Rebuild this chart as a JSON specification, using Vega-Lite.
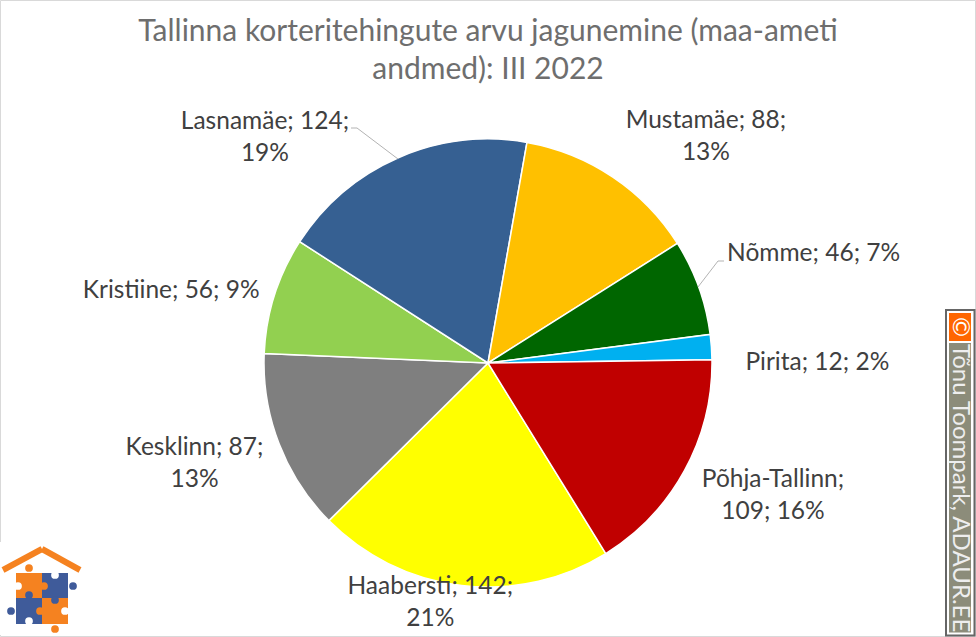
{"$schema":"https://vega.github.io/schema/vega-lite/v6.json","width":976,"height":556,"autosize":{"type":"none"},"padding":{"left":0,"top":85,"right":0,"bottom":0},"background":"white","config":{"view":{"stroke":null},"axis":{"disable":true}},"title":{"text":["Tallinna korteritehingute arvu jagunemine (maa-ameti","andmed): III 2022"],"font":"Lato","fontSize":30,"fontWeight":"normal","color":"#6e6e6e","lineHeight":38,"anchor":"middle","offset":-85},"datasets":{"one":[{"item":"decor"}],"pie":[{"name":"Haabersti","value":142,"rank":1,"label":"Haabersti; 142;\n21%"},{"name":"Kesklinn","value":87,"rank":2,"label":"Kesklinn; 87;\n13%"},{"name":"Kristiine","value":56,"rank":3,"label":"Kristiine; 56; 9%"},{"name":"Lasnamäe","value":124,"rank":4,"label":"Lasnamäe; 124;\n19%"},{"name":"Mustamäe","value":88,"rank":5,"label":"Mustamäe; 88;\n13%"},{"name":"Nõmme","value":46,"rank":6,"label":"Nõmme; 46; 7%"},{"name":"Pirita","value":12,"rank":7,"label":"Pirita; 12; 2%"},{"name":"Põhja-Tallinn","value":109,"rank":8,"label":"Põhja-Tallinn;\n109; 16%"}]},"data":{"name":"one"},"layer":[
{"mark":{"type":"rect","fill":null,"stroke":"#d9d9d9","strokeWidth":1},"encoding":{"x":{"datum":0.5,"type":"quantitative","scale":{"domain":[0,976]}},"x2":{"datum":975.5},"y":{"datum":0.5,"type":"quantitative","scale":{"domain":[85,641],"range":[0,556]}},"y2":{"datum":636.5}}},
{"mark":{"type":"rect","color":"#ffffff"},"encoding":{"x":{"datum":0,"type":"quantitative","scale":{"domain":[0,976]}},"x2":{"datum":84},"y":{"datum":542,"type":"quantitative","scale":{"domain":[85,641],"range":[0,556]}},"y2":{"datum":635}}},
{"mark":{"type":"rect","color":"#f58220"},"encoding":{"x":{"datum":16,"type":"quantitative","scale":{"domain":[0,976]}},"x2":{"datum":42},"y":{"datum":573,"type":"quantitative","scale":{"domain":[85,641],"range":[0,556]}},"y2":{"datum":598}}},
{"mark":{"type":"rect","color":"#3f5b9a"},"encoding":{"x":{"datum":42,"type":"quantitative","scale":{"domain":[0,976]}},"x2":{"datum":68},"y":{"datum":573,"type":"quantitative","scale":{"domain":[85,641],"range":[0,556]}},"y2":{"datum":598}}},
{"mark":{"type":"rect","color":"#3f5b9a"},"encoding":{"x":{"datum":16,"type":"quantitative","scale":{"domain":[0,976]}},"x2":{"datum":42},"y":{"datum":598,"type":"quantitative","scale":{"domain":[85,641],"range":[0,556]}},"y2":{"datum":624}}},
{"mark":{"type":"rect","color":"#f58220"},"encoding":{"x":{"datum":42,"type":"quantitative","scale":{"domain":[0,976]}},"x2":{"datum":68},"y":{"datum":598,"type":"quantitative","scale":{"domain":[85,641],"range":[0,556]}},"y2":{"datum":624}}},
{"mark":{"type":"rule","color":"#f58220","size":6},"encoding":{"x":{"datum":3,"type":"quantitative","scale":{"domain":[0,976]}},"x2":{"datum":42},"y":{"datum":570,"type":"quantitative","scale":{"domain":[85,641],"range":[0,556]}},"y2":{"datum":549}}},
{"mark":{"type":"rule","color":"#f58220","size":6},"encoding":{"x":{"datum":42,"type":"quantitative","scale":{"domain":[0,976]}},"x2":{"datum":80},"y":{"datum":549,"type":"quantitative","scale":{"domain":[85,641],"range":[0,556]}},"y2":{"datum":570}}},
{"mark":{"type":"point","filled":true,"opacity":1,"size":60,"color":"#f58220"},"encoding":{"x":{"datum":29,"type":"quantitative","scale":{"domain":[0,976]}},"y":{"datum":568,"type":"quantitative","scale":{"domain":[85,641],"range":[0,556]}}}},
{"mark":{"type":"point","filled":true,"opacity":1,"size":60,"color":"#3f5b9a"},"encoding":{"x":{"datum":73,"type":"quantitative","scale":{"domain":[0,976]}},"y":{"datum":586,"type":"quantitative","scale":{"domain":[85,641],"range":[0,556]}}}},
{"mark":{"type":"point","filled":true,"opacity":1,"size":60,"color":"#3f5b9a"},"encoding":{"x":{"datum":11,"type":"quantitative","scale":{"domain":[0,976]}},"y":{"datum":611,"type":"quantitative","scale":{"domain":[85,641],"range":[0,556]}}}},
{"mark":{"type":"point","filled":true,"opacity":1,"size":60,"color":"#f58220"},"encoding":{"x":{"datum":55,"type":"quantitative","scale":{"domain":[0,976]}},"y":{"datum":629,"type":"quantitative","scale":{"domain":[85,641],"range":[0,556]}}}},
{"mark":{"type":"point","filled":true,"opacity":1,"size":60,"color":"#3f5b9a"},"encoding":{"x":{"datum":29,"type":"quantitative","scale":{"domain":[0,976]}},"y":{"datum":595,"type":"quantitative","scale":{"domain":[85,641],"range":[0,556]}}}},
{"mark":{"type":"point","filled":true,"opacity":1,"size":60,"color":"#f58220"},"encoding":{"x":{"datum":44,"type":"quantitative","scale":{"domain":[0,976]}},"y":{"datum":586,"type":"quantitative","scale":{"domain":[85,641],"range":[0,556]}}}},
{"mark":{"type":"point","filled":true,"opacity":1,"size":60,"color":"#3f5b9a"},"encoding":{"x":{"datum":55,"type":"quantitative","scale":{"domain":[0,976]}},"y":{"datum":600,"type":"quantitative","scale":{"domain":[85,641],"range":[0,556]}}}},
{"mark":{"type":"point","filled":true,"opacity":1,"size":60,"color":"#f58220"},"encoding":{"x":{"datum":40,"type":"quantitative","scale":{"domain":[0,976]}},"y":{"datum":611,"type":"quantitative","scale":{"domain":[85,641],"range":[0,556]}}}},
{"mark":{"type":"point","filled":true,"opacity":1,"size":60,"color":"#ffffff"},"encoding":{"x":{"datum":18,"type":"quantitative","scale":{"domain":[0,976]}},"y":{"datum":586,"type":"quantitative","scale":{"domain":[85,641],"range":[0,556]}}}},
{"mark":{"type":"point","filled":true,"opacity":1,"size":60,"color":"#ffffff"},"encoding":{"x":{"datum":55,"type":"quantitative","scale":{"domain":[0,976]}},"y":{"datum":575,"type":"quantitative","scale":{"domain":[85,641],"range":[0,556]}}}},
{"mark":{"type":"point","filled":true,"opacity":1,"size":60,"color":"#ffffff"},"encoding":{"x":{"datum":29,"type":"quantitative","scale":{"domain":[0,976]}},"y":{"datum":621,"type":"quantitative","scale":{"domain":[85,641],"range":[0,556]}}}},
{"mark":{"type":"point","filled":true,"opacity":1,"size":60,"color":"#ffffff"},"encoding":{"x":{"datum":65,"type":"quantitative","scale":{"domain":[0,976]}},"y":{"datum":611,"type":"quantitative","scale":{"domain":[85,641],"range":[0,556]}}}},
{"data":{"name":"pie"},"mark":{"type":"arc","outerRadius":224,"stroke":"#ffffff","strokeWidth":1.5},"encoding":{"theta":{"field":"value","type":"quantitative","stack":true,"scale":{"domain":[0,664],"range":[2.588,8.871]}},"order":{"field":"rank","type":"ordinal"},"color":{"field":"name","type":"nominal","legend":null,"sort":null,"scale":{"domain":["Haabersti","Kesklinn","Kristiine","Lasnamäe","Mustamäe","Nõmme","Pirita","Põhja-Tallinn"],"range":["#ffff00","#7f7f7f","#92d050","#366092","#ffc000","#006600","#00b0f0","#c00000"]}}}},
{"data":{"name":"pie"},"mark":{"type":"text","radius":260,"font":"Lato","fontSize":24.5,"color":"#404040","lineBreak":"\n","lineHeight":32,"align":"center","baseline":"middle","dx":{"expr":"{'Haabersti':-27,'Kesklinn':-51,'Kristiine':-69,'Lasnamäe':-119,'Mustamäe':73,'Nõmme':81,'Pirita':70,'Põhja-Tallinn':57}[datum.name]"},"dy":{"expr":"{'Haabersti':-34,'Kesklinn':-9,'Kristiine':7,'Lasnamäe':-3,'Mustamäe':-26,'Nõmme':-21,'Pirita':18,'Põhja-Tallinn':-8}[datum.name]"}},"encoding":{"theta":{"field":"value","type":"quantitative","stack":true,"scale":{"domain":[0,664],"range":[2.588,8.871]}},"order":{"field":"rank","type":"ordinal"},"text":{"field":"label","type":"nominal"}}},
{"mark":{"type":"rule","color":"#b3b3b3","size":1},"encoding":{"x":{"datum":351,"type":"quantitative","scale":{"domain":[0,976]}},"x2":{"datum":357},"y":{"datum":128,"type":"quantitative","scale":{"domain":[85,641],"range":[0,556]}},"y2":{"datum":128}}},
{"mark":{"type":"rule","color":"#b3b3b3","size":1},"encoding":{"x":{"datum":357,"type":"quantitative","scale":{"domain":[0,976]}},"x2":{"datum":398},"y":{"datum":128,"type":"quantitative","scale":{"domain":[85,641],"range":[0,556]}},"y2":{"datum":159}}},
{"mark":{"type":"rule","color":"#b3b3b3","size":1},"encoding":{"x":{"datum":724,"type":"quantitative","scale":{"domain":[0,976]}},"x2":{"datum":718},"y":{"datum":261,"type":"quantitative","scale":{"domain":[85,641],"range":[0,556]}},"y2":{"datum":261}}},
{"mark":{"type":"rule","color":"#b3b3b3","size":1},"encoding":{"x":{"datum":718,"type":"quantitative","scale":{"domain":[0,976]}},"x2":{"datum":698},"y":{"datum":261,"type":"quantitative","scale":{"domain":[85,641],"range":[0,556]}},"y2":{"datum":287}}},
{"mark":{"type":"rect","fill":"#ffffff","stroke":"#666666","strokeWidth":2},"encoding":{"x":{"datum":946,"type":"quantitative","scale":{"domain":[0,976]}},"x2":{"datum":974.5},"y":{"datum":310,"type":"quantitative","scale":{"domain":[85,641],"range":[0,556]}},"y2":{"datum":635.5}}},
{"mark":{"type":"rect","color":"#ff6600"},"encoding":{"x":{"datum":949,"type":"quantitative","scale":{"domain":[0,976]}},"x2":{"datum":971},"y":{"datum":313,"type":"quantitative","scale":{"domain":[85,641],"range":[0,556]}},"y2":{"datum":341}}},
{"mark":{"type":"rect","color":"#8c8c7a"},"encoding":{"x":{"datum":949,"type":"quantitative","scale":{"domain":[0,976]}},"x2":{"datum":971},"y":{"datum":343,"type":"quantitative","scale":{"domain":[85,641],"range":[0,556]}},"y2":{"datum":632.5}}},
{"mark":{"type":"text","text":"©","font":"Lato","fontSize":24,"color":"#ffffff","angle":90,"align":"center","baseline":"middle"},"encoding":{"x":{"datum":960,"type":"quantitative","scale":{"domain":[0,976]}},"y":{"datum":327,"type":"quantitative","scale":{"domain":[85,641],"range":[0,556]}}}},
{"mark":{"type":"text","text":"Tõnu Toompark, ADAUR.EE","font":"Lato","fontSize":24,"color":"#eeeeee","angle":90,"align":"left","baseline":"middle"},"encoding":{"x":{"datum":960,"type":"quantitative","scale":{"domain":[0,976]}},"y":{"datum":344,"type":"quantitative","scale":{"domain":[85,641],"range":[0,556]}}}}
]}
